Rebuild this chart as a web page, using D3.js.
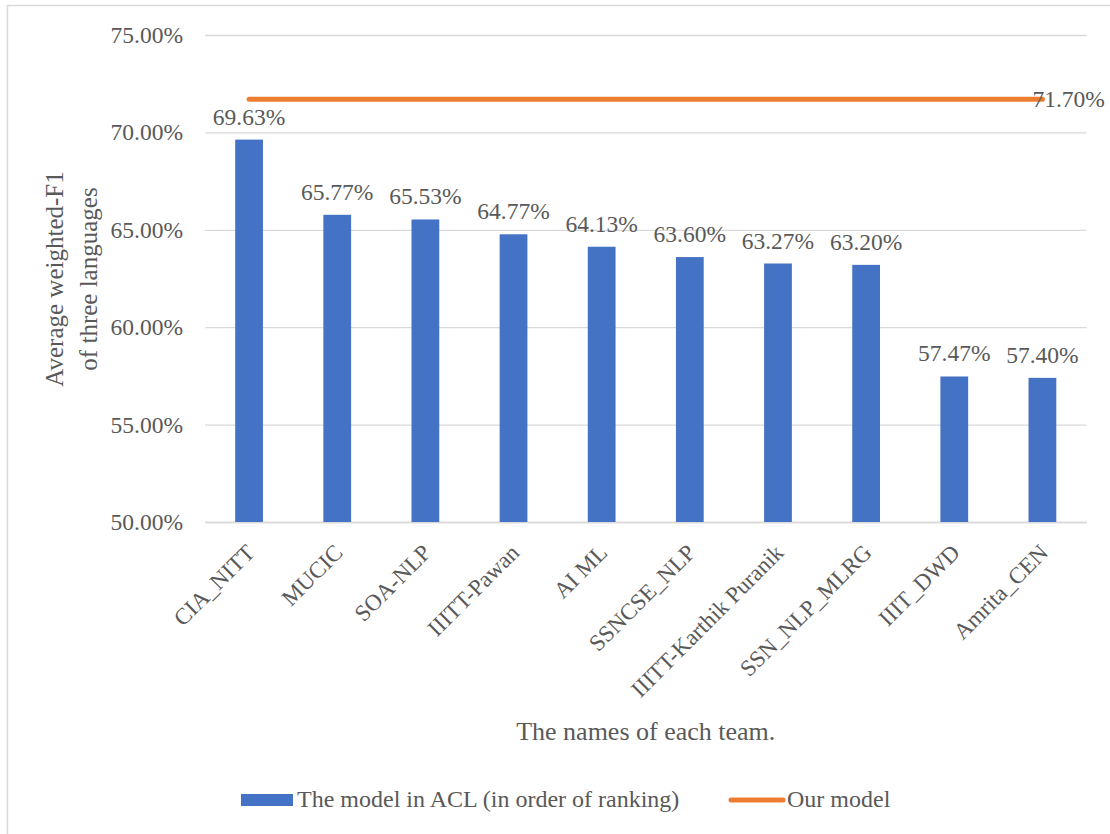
<!DOCTYPE html>
<html>
<head>
<meta charset="utf-8">
<script src="https://cdn.jsdelivr.net/npm/d3@7"></script>
<style>
  html, body { margin: 0; padding: 0; background: #fff; }
  svg { display: block; }
  svg text { font-family: "Liberation Serif", "Times New Roman", Times, serif !important; fill: #595959; }
</style>
</head>
<body>
<svg id="chart" width="1110" height="834" font-family="Liberation Serif, serif"></svg>
<script>
// ---- data ----
const teams = ["CIA_NITT", "MUCIC", "SOA-NLP", "IIITT-Pawan", "AI ML", "SSNCSE_NLP",
               "IIITT-Karthik Puranik", "SSN_NLP_MLRG", "IIIT_DWD", "Amrita_CEN"];
const aclScores = [0.6963, 0.6577, 0.6553, 0.6477, 0.6413, 0.6360, 0.6327, 0.6320, 0.5747, 0.5740];
const ourModel = [0.717, 0.717, 0.717, 0.717, 0.717, 0.717, 0.717, 0.717, 0.717, 0.717];
const yTicks = [0.50, 0.55, 0.60, 0.65, 0.70, 0.75];
const seriesNames = ["The model in ACL (in order of ranking)", "Our model"];
const yTitleLines = ["Average weighted-F1", "of three languages"];
const xTitle = "The names of each team.";

// ---- layout ----
const svg = d3.select("#chart");
const plotL = 205, plotR = 1086.5, plotT = 35, plotB = 522;
const blue = "#4472C4", orange = "#ED7D31", grid = "#D9D9D9";
const serif = "'Liberation Serif', 'Times New Roman', serif";
const fmt = d3.format(".2%");

// chart border
svg.append("rect").attr("x", 7.5).attr("y", 5.5).attr("width", 1300).attr("height", 1000)
  .attr("fill", "none").attr("stroke", grid).attr("stroke-width", 1.5);

const x = d3.scaleBand().domain(teams).range([plotL, plotR]).padding(0);
const y = d3.scaleLinear().domain([0.5, 0.75]).range([plotB, plotT]);
const cx = d => x(d) + x.bandwidth() / 2;

// gridlines + y axis labels
const yAxis = d3.axisLeft(y).tickValues(yTicks).tickFormat(fmt).tickSize(-(plotR - plotL)).tickPadding(22);
const gy = svg.append("g").attr("transform", `translate(${plotL},0)`).call(yAxis)
  .attr("font-family", null);
gy.select(".domain").remove();
gy.selectAll(".tick line").attr("stroke", grid).attr("stroke-width", 1.3);
gy.selectAll(".tick text").style("font-size", "23.5px").style("fill", "#595959")
  .style("font-family", serif);

// x axis
const xAxis = d3.axisBottom(x).tickSize(0).tickFormat("");
const gx = svg.append("g").attr("transform", `translate(0,${plotB})`).call(xAxis);
gx.select(".domain").attr("stroke", grid).attr("stroke-width", 1.5);

// x labels rotated
svg.append("g").selectAll("text").data(teams).join("text")
  .attr("transform", d => `translate(${cx(d) + 7},${plotB + 32}) rotate(-45)`)
  .attr("text-anchor", "end")
  .style("font-family", serif)
  .style("font-size", "23px")
  .text(d => d);

// bars
const barW = x.bandwidth() * 0.315;
svg.append("g").selectAll("rect").data(teams).join("rect")
  .attr("x", d => cx(d) - barW / 2)
  .attr("y", (d, i) => y(aclScores[i]))
  .attr("width", barW)
  .attr("height", (d, i) => y(0.5) - y(aclScores[i]))
  .attr("fill", blue);

// bar labels
svg.append("g").selectAll("text").data(teams).join("text")
  .attr("x", d => cx(d))
  .attr("y", (d, i) => y(aclScores[i]) - 15)
  .attr("text-anchor", "middle")
  .style("font-family", serif)
  .style("font-size", "23.5px")
  .text((d, i) => fmt(aclScores[i]));

// our model line
const line = d3.line().x(d => cx(d)).y((d, i) => y(ourModel[i]));
svg.append("path").datum(teams).attr("d", line)
  .attr("fill", "none").attr("stroke", orange).attr("stroke-width", 5)
  .attr("stroke-linecap", "round");

// label at end of line
const last = teams[teams.length - 1];
svg.append("text")
  .attr("x", cx(last) - 10)
  .attr("y", y(ourModel[ourModel.length - 1]) + 8)
  .style("font-family", serif)
  .style("font-size", "23.5px")
  .text(fmt(ourModel[ourModel.length - 1]));

// y title
const yt = svg.append("text")
  .attr("transform", `translate(63,279) rotate(-90)`)
  .attr("text-anchor", "middle")
  .style("font-family", serif)
  .style("font-size", "25px");
yt.append("tspan").attr("x", 0).attr("y", 0).text(yTitleLines[0]);
yt.append("tspan").attr("x", 0).attr("y", 34).text(yTitleLines[1]);

// x title
svg.append("text").attr("x", (plotL + plotR) / 2).attr("y", 740)
  .attr("text-anchor", "middle").style("font-family", serif).style("font-size", "26px").text(xTitle);

// legend
const lg = svg.append("g");
lg.append("rect").attr("x", 241).attr("y", 794).attr("width", 52).attr("height", 12).attr("fill", blue);
lg.append("text").attr("x", 297).attr("y", 807).style("font-family", serif).style("font-size", "24px").text(seriesNames[0]);
lg.append("line").attr("x1", 731).attr("x2", 783).attr("y1", 800).attr("y2", 800)
  .attr("stroke", orange).attr("stroke-width", 5).attr("stroke-linecap", "round");
lg.append("text").attr("x", 787).attr("y", 807).style("font-family", serif).style("font-size", "24px").text(seriesNames[1]);
</script>
</body>
</html>
